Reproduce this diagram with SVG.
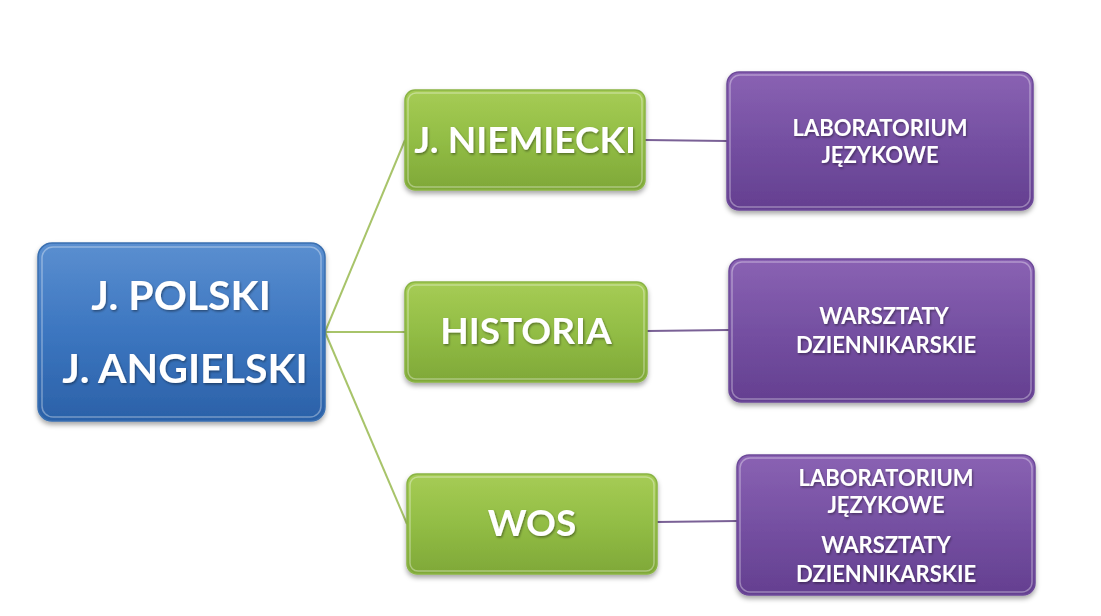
<svg xmlns="http://www.w3.org/2000/svg" width="1101" height="616" viewBox="0 0 1101 616">
<defs>
<linearGradient id="gBlue" x1="0" y1="0" x2="0" y2="1">
<stop offset="0" stop-color="#5b8fd0"/><stop offset="0.5" stop-color="#3c76c0"/><stop offset="1" stop-color="#2b61a8"/>
</linearGradient>
<linearGradient id="gGreen" x1="0" y1="0" x2="0" y2="1">
<stop offset="0" stop-color="#a6cc55"/><stop offset="0.5" stop-color="#92bd45"/><stop offset="1" stop-color="#7fa838"/>
</linearGradient>
<linearGradient id="gPurple" x1="0" y1="0" x2="0" y2="1">
<stop offset="0" stop-color="#8a62b3"/><stop offset="0.5" stop-color="#7550a2"/><stop offset="1" stop-color="#643f90"/>
</linearGradient>
<filter id="sh" x="-10%" y="-10%" width="120%" height="130%">
<feDropShadow dx="0" dy="3" stdDeviation="2.5" flood-color="#000" flood-opacity="0.35"/>
</filter>
<filter id="tsh" x="-5%" y="-20%" width="110%" height="140%">
<feDropShadow dx="1" dy="1.5" stdDeviation="1" flood-color="#000" flood-opacity="0.4"/>
</filter>
</defs>
<style>
.box{filter:url(#sh);}
.blue{fill:url(#gBlue);stroke:#3a6fb0;stroke-width:1.5;}
.green{fill:url(#gGreen);stroke:#8ab445;stroke-width:1.5;}
.purple{fill:url(#gPurple);stroke:#6d4a99;stroke-width:1.5;}
.hl{fill:none;stroke:#ffffff;stroke-opacity:0.35;stroke-width:1.5;}
text{font-family:Lato,"Open Sans","Liberation Sans",sans-serif;font-weight:bold;fill:#ffffff;text-anchor:middle;filter:url(#tsh);}
.big{font-size:41px;}
.mid{font-size:37px;}
.sm{font-size:22px;}
.cg{stroke:#a8c46a;stroke-width:2;fill:none;}
.cp{stroke:#7a6196;stroke-width:2;fill:none;}
</style>
<rect width="1101" height="616" fill="#ffffff"/>
<g id="connectors">
<line class="cg" x1="325" y1="332" x2="405" y2="140"/>
<line class="cg" x1="325" y1="332" x2="405" y2="332"/>
<line class="cg" x1="325" y1="332" x2="407" y2="524"/>
<line class="cp" x1="645" y1="140" x2="727" y2="141"/>
<line class="cp" x1="647" y1="331" x2="729" y2="330"/>
<line class="cp" x1="657" y1="522" x2="737" y2="521"/>
</g>
<g id="node-polski">
<rect class="box blue" x="38" y="243" width="287" height="178" rx="14"/>
<rect class="hl" x="42" y="247" width="279" height="170" rx="11"/>
<text class="big" x="181" y="310">J. POLSKI</text>
<text class="big" x="185" y="383">J. ANGIELSKI</text>
</g>
<g id="node-niemiecki">
<rect class="box green" x="405" y="90" width="240" height="100" rx="10"/>
<rect class="hl" x="408" y="93" width="234" height="94" rx="8"/>
<text class="mid" x="525" y="153">J. NIEMIECKI</text>
</g>
<g id="node-historia">
<rect class="box green" x="405" y="282" width="242" height="100" rx="10"/>
<rect class="hl" x="408" y="285" width="236" height="94" rx="8"/>
<text class="mid" x="526" y="344">HISTORIA</text>
</g>
<g id="node-wos">
<rect class="box green" x="407" y="474" width="250" height="100" rx="10"/>
<rect class="hl" x="410" y="477" width="244" height="94" rx="8"/>
<text class="mid" x="532" y="536">WOS</text>
</g>
<g id="node-lab1">
<rect class="box purple" x="727" y="72" width="306" height="138" rx="12"/>
<rect class="hl" x="730" y="75" width="300" height="132" rx="10"/>
<text class="sm" x="880" y="136">LABORATORIUM</text>
<text class="sm" x="880" y="163">JĘZYKOWE</text>
</g>
<g id="node-warsztaty">
<rect class="box purple" x="729" y="259" width="305" height="143" rx="12"/>
<rect class="hl" x="732" y="262" width="299" height="137" rx="10"/>
<text class="sm" x="884" y="324">WARSZTATY</text>
<text class="sm" x="886" y="353">DZIENNIKARSKIE</text>
</g>
<g id="node-lab-warsztaty">
<rect class="box purple" x="737" y="455" width="298" height="140" rx="12"/>
<rect class="hl" x="740" y="458" width="292" height="134" rx="10"/>
<text class="sm" x="886" y="486">LABORATORIUM</text>
<text class="sm" x="886" y="513">JĘZYKOWE</text>
<text class="sm" x="886" y="553">WARSZTATY</text>
<text class="sm" x="886" y="582">DZIENNIKARSKIE</text>
</g>
</svg>
